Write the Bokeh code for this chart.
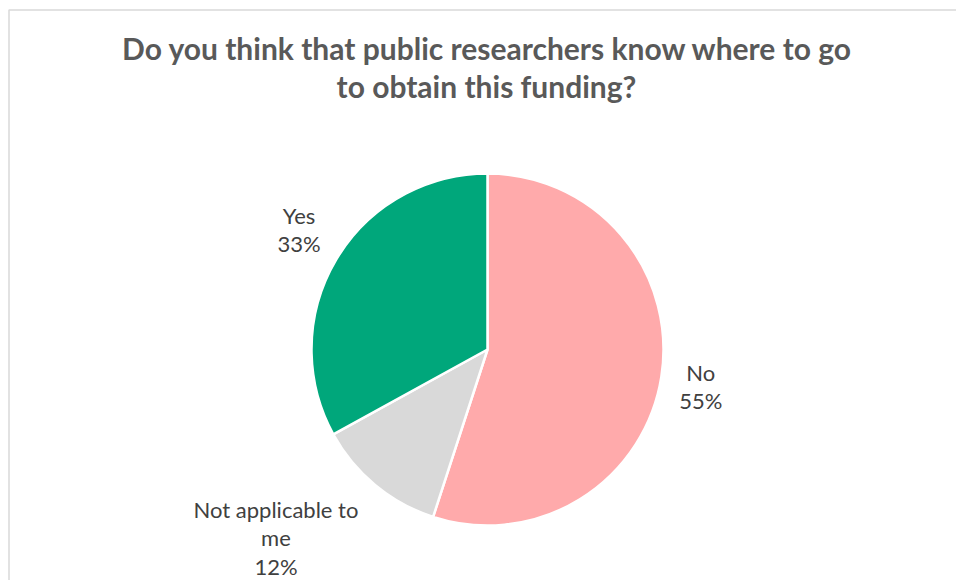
import numpy as np
from bokeh.plotting import figure
from bokeh.models import Range1d
from bokeh.core.properties import value
from bokeh.embed import file_html
from bokeh.resources import INLINE

# ---- data ----
title_lines = ["Do you think that public researchers know where to go", "to obtain this funding?"]
categories = ["No", "Not applicable to\nme", "Yes"]
shares = [55, 12, 33]
colors = ["#FFAAAB", "#D9D9D9", "#00A77B"]

# ---- layout constants ----
W, H = 956, 580
CX, CY = 487, H - 349
R = 176
LABEL_R = 196
LINE_H = 29
CHAR_W = 9.8
PAD = 10
FONT = "Lato"

p = figure(width=W, height=H, output_backend="svg", toolbar_location=None,
           x_range=Range1d(0, W), y_range=Range1d(0, H), min_border=0)
p.axis.visible = False
p.grid.visible = False
p.outline_line_color = None
p.background_fill_color = "white"
p.border_fill_color = "white"

# chart-area border
p.quad(left=8.5, right=W + 20, bottom=-20, top=H - 9.5, fill_color=None,
       line_color="#D9D9D9", line_width=1.5)

vals = np.array(shares, dtype=float)
frac = vals / vals.sum()
cum = np.cumsum(frac)
start = np.pi / 2 - 2 * np.pi * (cum - frac)
end = np.pi / 2 - 2 * np.pi * cum

p.wedge(x=CX, y=CY, radius=R, start_angle=start, end_angle=end, direction="clock",
        fill_color=colors, line_color="white", line_width=2.5)

# labels: outside end, box placed along slice mid-angle, kept inside chart area
mid = np.pi / 2 - 2 * np.pi * (cum - frac / 2)
lx, ly, texts = [], [], []
for cat, f, a in zip(categories, frac, mid):
    txt = f"{cat}\n{round(f * 100):.0f}%"
    lines = txt.split("\n")
    hw = (max(len(s) for s in lines) * CHAR_W + PAD) / 2
    hh = (len(lines) * LINE_H + PAD) / 2
    dx, dy = np.cos(a), np.sin(a)
    ax, ay = CX + LABEL_R * dx, CY + LABEL_R * dy
    x = ax + hw * np.clip(dx / 0.65, -1, 1)
    y = ay + hh * np.clip(dy / 0.85, -1, 1)
    y = max(y, -1 + len(lines) * LINE_H / 2)
    lx.append(x)
    ly.append(y)
    texts.append(txt)

p.text(x=lx, y=ly, text=texts, text_align="center", text_baseline="middle",
       text_font=value(FONT), text_font_size="22px", text_color="#404040",
       text_line_height=1.05)

# title
p.text(x=[W / 2 + 9, W / 2 + 8], y=[H - 47, H - 85], text=title_lines,
       text_align="center", text_baseline="alphabetic", text_font=value(FONT),
       text_font_style="bold", text_font_size="30px", text_color="#595959")

open("out.html", "w").write(file_html(p, INLINE))
